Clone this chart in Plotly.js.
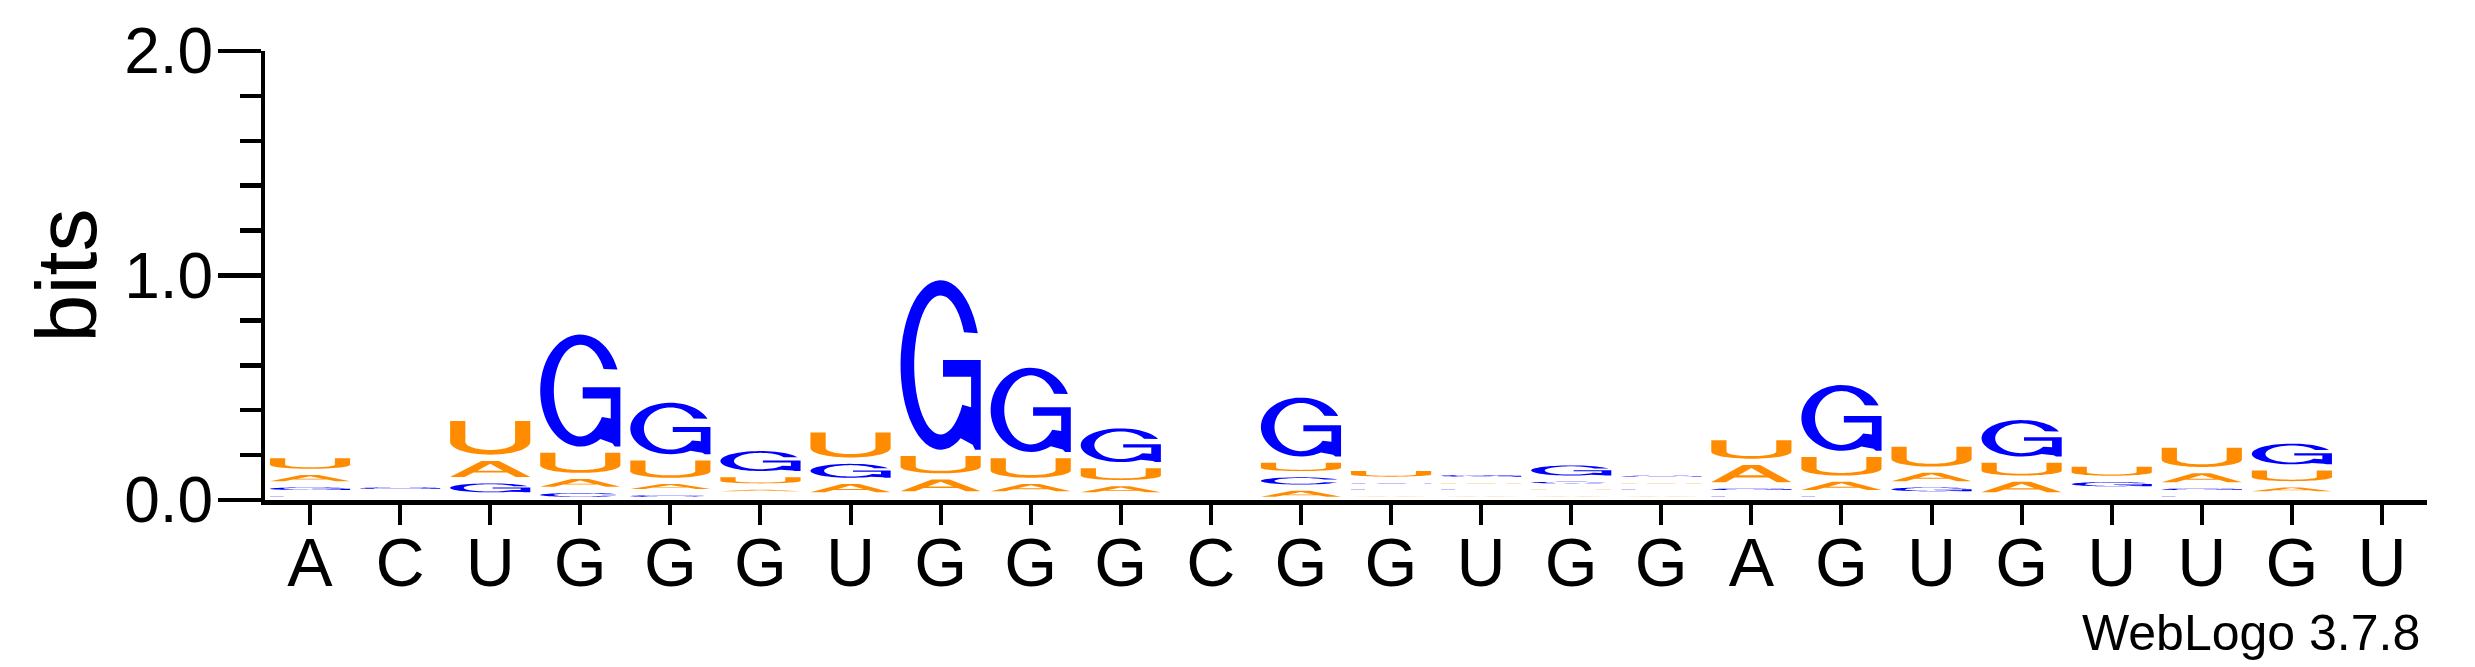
<!DOCTYPE html>
<html><head><meta charset="utf-8">
<script src="https://cdn.plot.ly/plotly-3.0.1.min.js"></script>
<style>html,body{margin:0;padding:0;background:#fff;}#chart{width:2475px;height:667px;}</style>
</head><body><div id="chart"></div>
<script>
// ---- data (bits per letter at each position) ----
const positions = [1,2,3,4,5,6,7,8,9,10,11,12,13,14,15,16,17,18,19,20,21,22,23,24];
const tickLabels = ['A','C','U','G','G','G','U','G','G','G','C','G','G','U','G','G','A','G','U','G','U','U','G','U'];
const bitsA = [0.055,0.010,0.100,0.062,0.050,0.035,0.065,0.080,0.060,0.055,0.003,0.055,0.030,0.030,0.030,0.030,0.105,0.065,0.065,0.075,0.025,0.068,0.045,0.002];
const bitsC = [0.030,0.015,0.020,0.045,0.035,0.025,0.020,0.025,0.025,0.020,0.003,0.060,0.030,0.030,0.035,0.030,0.030,0.030,0.025,0.020,0.022,0.030,0.025,0.002];
const bitsG = [0.040,0.035,0.068,0.527,0.257,0.117,0.090,0.783,0.403,0.178,0.003,0.290,0.030,0.035,0.073,0.032,0.035,0.321,0.045,0.190,0.047,0.035,0.120,0.002];
const bitsU = [0.075,0.010,0.178,0.117,0.105,0.055,0.140,0.105,0.115,0.080,0.003,0.065,0.053,0.030,0.030,0.030,0.110,0.110,0.116,0.085,0.068,0.114,0.075,0.002];
const letters = ['A','C','G','U'];
const letterBits = {A: bitsA, C: bitsC, G: bitsG, U: bitsU};
const letterColor = {A: '#FF8C00', U: '#FF8C00', G: '#0000FF', C: '#0000FF'};

// ---- glyph outlines in a unit box (u right, v up) ----
function arc(cx, cy, rx, ry, a0, a1, n) {
  const pts = [];
  for (let i = 0; i <= n; i++) {
    const a = (a0 + (a1 - a0) * i / n) * Math.PI / 180;
    pts.push([cx + rx * Math.cos(a), cy + ry * Math.sin(a)]);
  }
  return pts;
}
const glyphs = {
  G: [[].concat(
        arc(0.5,0.5,0.5,0.5,22,300,48),
        [[0.90,0.03],[0.93,0.0],[1.0,0.0],[1.0,0.53],[0.53,0.53],[0.53,0.43],[0.88,0.43],[0.88,0.25]],
        arc(0.5,0.5,0.33,0.41,325,28,48))],
  C: [[].concat(arc(0.5,0.5,0.5,0.5,25,335,48), arc(0.5,0.5,0.33,0.41,332,28,48))],
  U: [[].concat([[0,1]], arc(0.5,0.38,0.5,0.38,180,360,30), [[1,1],[0.81,1]],
        arc(0.5,0.38,0.31,0.24,360,180,30), [[0.19,1]])],
  A: [[[0,0],[0.39,1],[0.61,1],[1,0],[0.82,0],[0.71,0.28],[0.29,0.28],[0.18,0]],
      [[0.34,0.40],[0.66,0.40],[0.5,0.82]]]
};

const halfWidth = 0.445;   // letter half-width in position units
const pad = 0.014;         // vertical padding in bits between stacked letters

const shapes = [];
positions.forEach((pos, i) => {
  const order = letters.slice().sort((a, b) => letterBits[a][i] - letterBits[b][i]);
  let base = 0;
  order.forEach(L => {
    const h = letterBits[L][i];
    const y0 = base + pad, y1 = base + h - pad;
    base += h;
    if (y1 - y0 <= 0.0004) return;
    const x0 = pos - halfWidth, x1 = pos + halfWidth;
    let path = '';
    glyphs[L].forEach(poly => {
      poly.forEach((p, k) => {
        const X = x0 + p[0] * (x1 - x0), Y = y0 + p[1] * (y1 - y0);
        path += (k === 0 ? 'M' : 'L') + X.toFixed(5) + ',' + Y.toFixed(6);
      });
      path += 'Z';
    });
    shapes.push({type: 'path', xref: 'x', yref: 'y', path: path,
      fillcolor: letterColor[L], fillrule: 'evenodd', line: {width: 0}, layer: 'above'});
  });
});

const font = 'Liberation Sans, Arial, Helvetica, sans-serif';
const layout = {
  width: 2475, height: 667,
  margin: {l: 265, r: 48, t: 51, b: 167, pad: 0},
  paper_bgcolor: '#fff', plot_bgcolor: '#fff',
  showlegend: false,
  xaxis: {
    range: [0.5, 24.5], showgrid: false, zeroline: false,
    showline: true, linewidth: 4.5, linecolor: '#000',
    ticks: 'outside', ticklen: 20, tickwidth: 4, tickcolor: '#000',
    tickmode: 'array', tickvals: positions, ticktext: tickLabels,
    ticklabelstandoff: -20,
    tickfont: {family: font, size: 68, color: '#000'}, fixedrange: true
  },
  yaxis: {
    range: [0, 2], showgrid: false, zeroline: false,
    showline: true, linewidth: 4, linecolor: '#000',
    ticks: 'outside', ticklen: 43, tickwidth: 4.5, tickcolor: '#000',
    tick0: 0, dtick: 1, tickformat: '.1f',
    ticklabelstandoff: -8,
    minor: {dtick: 0.2, tick0: 0, ticks: 'outside', ticklen: 21, tickwidth: 4.5, tickcolor: '#000', showgrid: false},
    tickfont: {family: font, size: 64, color: '#000'},
    title: {text: 'bits', font: {family: font, size: 86, color: '#000'}, standoff: 0},
    fixedrange: true
  },
  shapes: shapes,
  annotations: [{
    xref: 'paper', yref: 'paper', x: 1, y: 0, xanchor: 'right', yanchor: 'middle',
    xshift: -5, yshift: -133, showarrow: false, text: 'WebLogo 3.7.8',
    font: {family: font, size: 50, color: '#000'}
  }]
};
Plotly.newPlot('chart', [], layout, {displayModeBar: false, staticPlot: true});
</script></body></html>
